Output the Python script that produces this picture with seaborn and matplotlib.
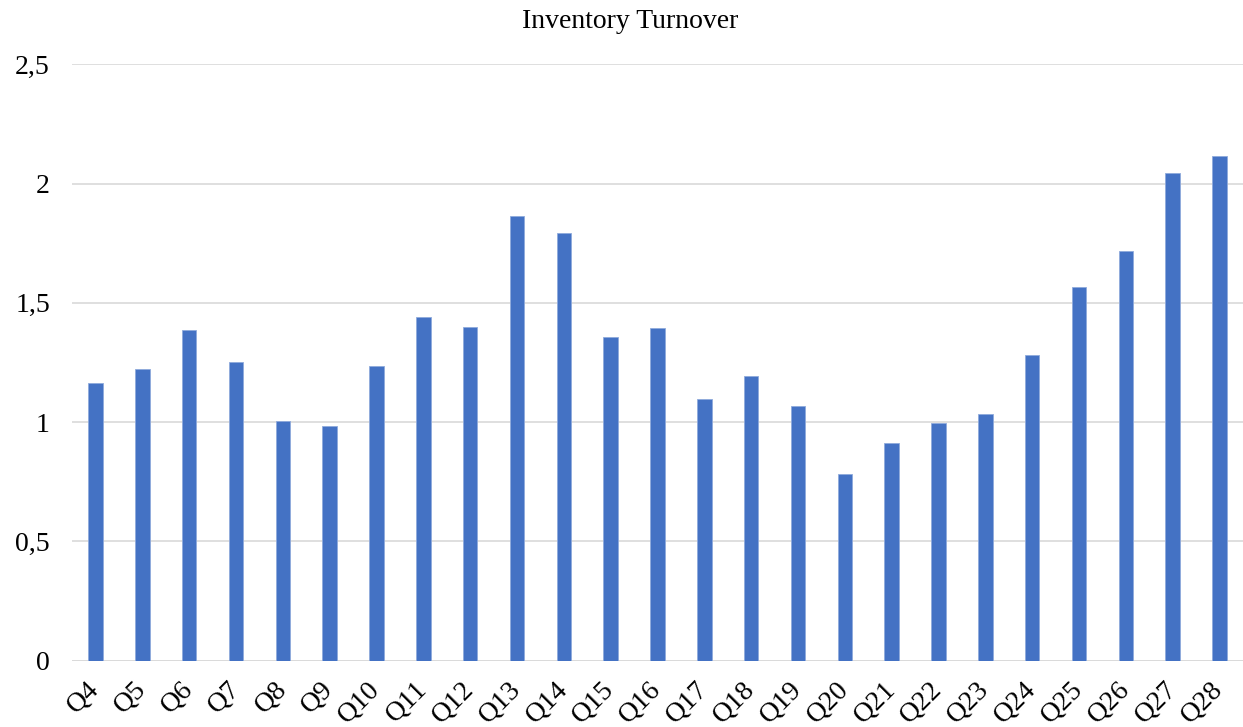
import matplotlib
matplotlib.use("Agg")
import matplotlib.pyplot as plt
from matplotlib.ticker import FuncFormatter
import seaborn as sns
import pandas as pd

quarters = [f"Q{i}" for i in range(4, 29)]
turnover = [1.165, 1.222, 1.388, 1.253, 1.003, 0.984, 1.236, 1.441, 1.400,
            1.866, 1.793, 1.358, 1.393, 1.097, 1.192, 1.066, 0.783, 0.913,
            0.995, 1.036, 1.283, 1.567, 1.718, 2.046, 2.114]
y_ticks = [0, 0.5, 1, 1.5, 2, 2.5]

df = pd.DataFrame({"quarter": quarters, "turnover": turnover})

sns.set_theme(style="white")
plt.rcParams["font.family"] = ["Liberation Serif", "DejaVu Serif"]

fig = plt.figure(figsize=(12.43, 7.27), dpi=100)
ax = fig.add_axes([0.058, 0.0912, 0.942, 0.8204])

sns.barplot(data=df, x="quarter", y="turnover", color="#4472C4",
            saturation=1, width=0.31, edgecolor="#8FAADC", linewidth=0.6,
            ax=ax, zorder=3)

ax.set_ylim(0, 2.5)
ax.set_xlim(-0.5, len(quarters) - 0.5)
ax.set_yticks(y_ticks)
ax.yaxis.set_major_formatter(FuncFormatter(
    lambda v, _: f"{v:g}".replace(".", ",")))
ax.grid(axis="y", color="#D9D9D9", linewidth=1.2, zorder=0)
ax.grid(axis="x", visible=False)
for side in ["top", "right", "left", "bottom"]:
    ax.spines[side].set_visible(False)
ax.axhline(0, color="#D9D9D9", linewidth=1.2, zorder=1)

ax.tick_params(axis="both", length=0, labelsize=20, labelcolor="black")
ax.tick_params(axis="y", pad=16)
ax.tick_params(axis="x", pad=18)
plt.setp(ax.get_xticklabels(), rotation=45, ha="right", va="center",
         rotation_mode="anchor")
ax.set_xlabel("")
ax.set_ylabel("")
ax.set_title("Inventory Turnover", fontsize=20, color="black",
             x=0.477, pad=26)

fig.savefig("out.png", dpi=100)
